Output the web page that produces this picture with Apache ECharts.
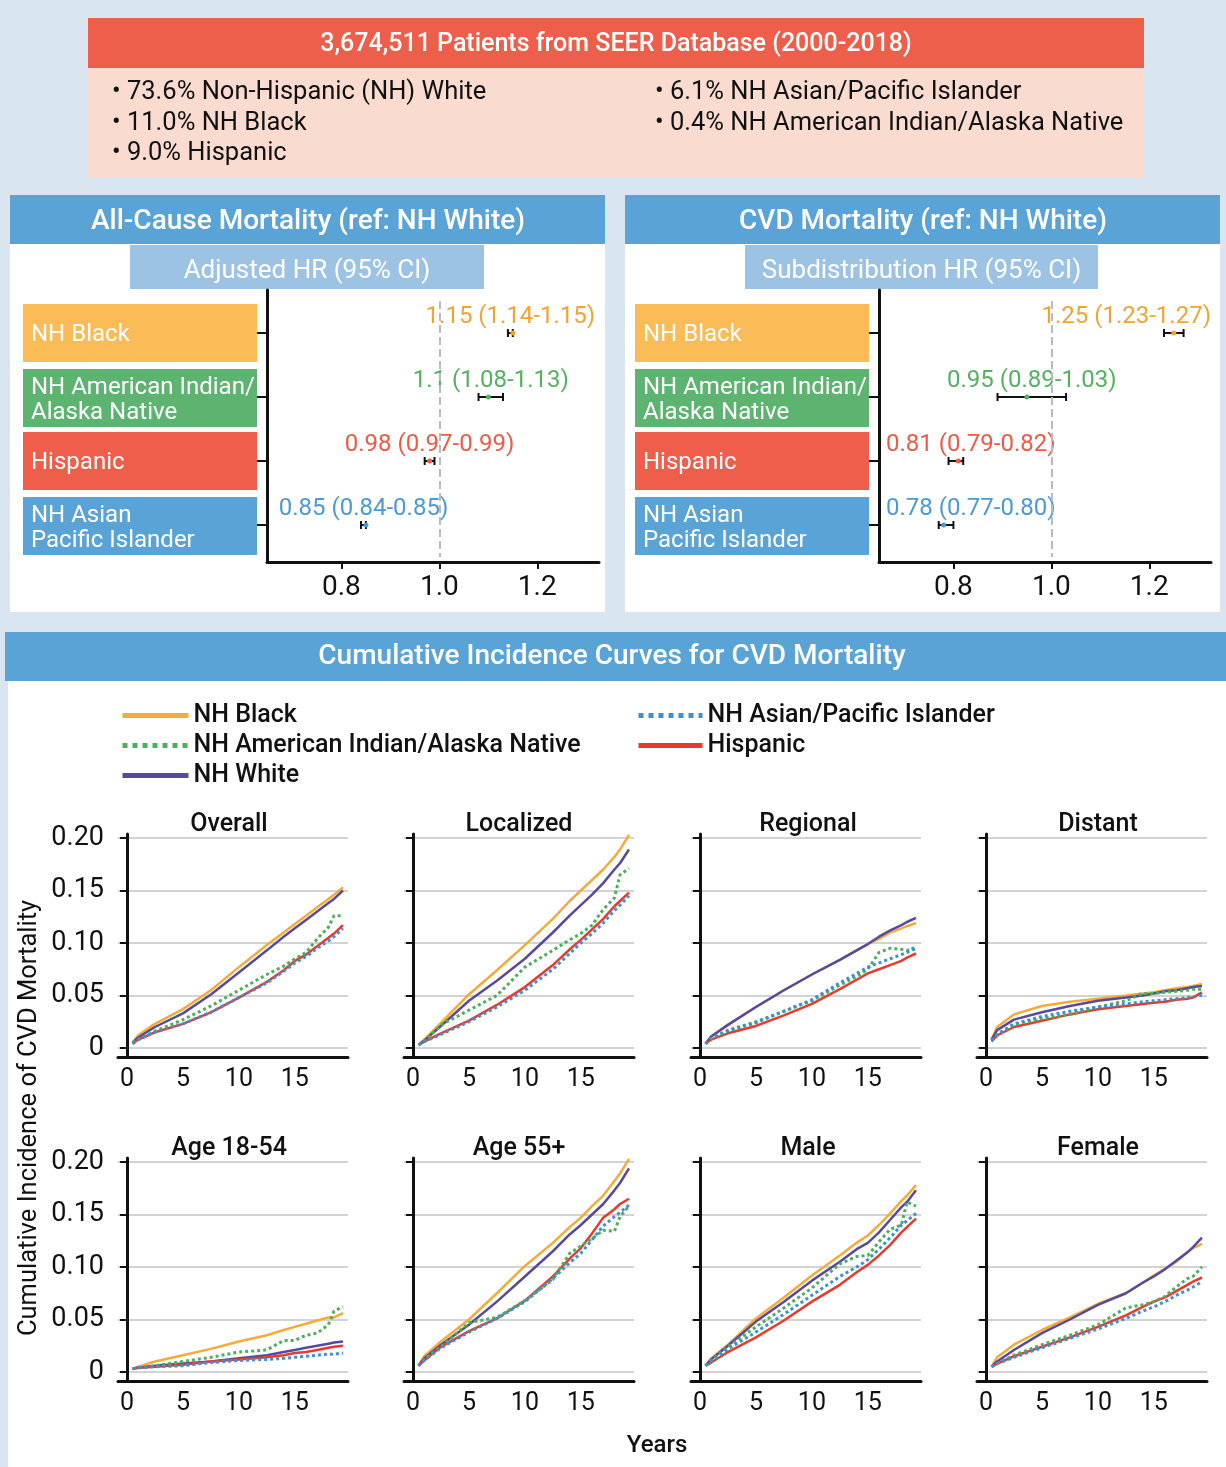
<!DOCTYPE html>
<html>
<head>
<meta charset="utf-8">
<title>SEER CVD mortality by race and ethnicity</title>
<script src="https://cdn.jsdelivr.net/npm/echarts@6.0.0/dist/echarts.min.js"></script>
<style>
html, body { margin: 0; padding: 0; background: #dae5f2; }
#chart { width: 1226px; height: 1467px; }
</style>
</head>
<body>
<div id="chart"></div>
<script>
var FONT = 'Roboto, "Noto Sans", sans-serif';

// cohort box
var cohortTitle = '3,674,511 Patients from SEER Database (2000-2018)';
var cohortLeft = ['73.6% Non-Hispanic (NH) White', '11.0% NH Black', '9.0% Hispanic'];
var cohortRight = ['6.1% NH Asian/Pacific Islander', '0.4% NH American Indian/Alaska Native'];

// forest plots, reference NH White
var hrGroups = ['NH Black', 'NH American Indian/\nAlaska Native', 'Hispanic', 'NH Asian\nPacific Islander'];
var hrTicks = [0.8, 1.0, 1.2];
var allCauseHR = [1.15, 1.1, 0.98, 0.85];
var allCauseLow = [1.14, 1.08, 0.97, 0.84];
var allCauseHigh = [1.15, 1.13, 0.99, 0.85];
var cvdHR = [1.25, 0.95, 0.81, 0.78];
var cvdLow = [1.23, 0.89, 0.79, 0.77];
var cvdHigh = [1.27, 1.03, 0.82, 0.80];

// cumulative incidence curves
var raceNames = ['NH Black', 'NH American Indian/Alaska Native', 'NH White', 'NH Asian/Pacific Islander', 'Hispanic'];
var panelNames = ['Overall', 'Localized', 'Regional', 'Distant', 'Age 18-54', 'Age 55+', 'Male', 'Female'];
var years = [0.5, 1, 2.5, 5, 7.5, 10, 12.5, 14, 15, 16, 17, 18, 18.5, 19.3];
var yearTicks = [0, 5, 10, 15];

// rows in raceNames order: black, am. indian, white, asian, hispanic
var overallCurves = [
  [0.005, 0.012, 0.023, 0.037, 0.055, 0.077, 0.098, 0.110, 0.118, 0.126, 0.134, 0.142, 0.146, 0.153],
  [0.005, 0.008, 0.016, 0.027, 0.040, 0.055, 0.070, 0.078, 0.085, 0.091, 0.104, 0.115, 0.126, 0.126],
  [0.005, 0.010, 0.020, 0.033, 0.051, 0.072, 0.093, 0.106, 0.114, 0.122, 0.130, 0.138, 0.142, 0.150],
  [0.004, 0.008, 0.015, 0.023, 0.034, 0.048, 0.062, 0.073, 0.081, 0.087, 0.095, 0.102, 0.106, 0.114],
  [0.004, 0.008, 0.015, 0.023, 0.034, 0.048, 0.063, 0.074, 0.083, 0.089, 0.097, 0.105, 0.109, 0.117]
];
var localizedCurves = [
  [0.003, 0.008, 0.024, 0.051, 0.074, 0.098, 0.123, 0.140, 0.150, 0.160, 0.170, 0.182, 0.189, 0.203],
  [0.003, 0.006, 0.022, 0.036, 0.050, 0.077, 0.093, 0.103, 0.109, 0.117, 0.132, 0.143, 0.165, 0.171],
  [0.003, 0.007, 0.021, 0.045, 0.064, 0.085, 0.110, 0.126, 0.136, 0.146, 0.157, 0.170, 0.176, 0.189],
  [0.003, 0.006, 0.013, 0.025, 0.039, 0.055, 0.075, 0.090, 0.100, 0.109, 0.119, 0.131, 0.136, 0.145],
  [0.003, 0.006, 0.014, 0.026, 0.041, 0.058, 0.079, 0.094, 0.103, 0.113, 0.123, 0.135, 0.140, 0.148]
];
var regionalCurves = [
  [0.004, 0.011, 0.022, 0.039, 0.055, 0.070, 0.084, 0.093, 0.099, 0.104, 0.110, 0.114, 0.116, 0.119],
  [0.004, 0.009, 0.017, 0.025, 0.035, 0.045, 0.060, 0.068, 0.075, 0.091, 0.095, 0.094, 0.093, 0.094],
  [0.004, 0.011, 0.022, 0.039, 0.055, 0.070, 0.084, 0.093, 0.099, 0.106, 0.112, 0.117, 0.120, 0.124],
  [0.004, 0.009, 0.016, 0.024, 0.035, 0.046, 0.062, 0.071, 0.077, 0.081, 0.085, 0.089, 0.091, 0.097],
  [0.004, 0.008, 0.014, 0.021, 0.031, 0.042, 0.056, 0.065, 0.071, 0.075, 0.079, 0.083, 0.086, 0.090]
];
var distantCurves = [
  [0.008, 0.020, 0.032, 0.040, 0.044, 0.047, 0.050, 0.052, 0.053, 0.055, 0.057, 0.058, 0.059, 0.061],
  [0.007, 0.012, 0.022, 0.028, 0.032, 0.039, 0.045, 0.052, 0.052, 0.053, 0.054, 0.055, 0.056, 0.056],
  [0.008, 0.017, 0.027, 0.034, 0.040, 0.045, 0.048, 0.050, 0.052, 0.054, 0.055, 0.057, 0.058, 0.059],
  [0.007, 0.013, 0.023, 0.030, 0.035, 0.039, 0.042, 0.044, 0.045, 0.046, 0.047, 0.048, 0.049, 0.050],
  [0.006, 0.012, 0.020, 0.026, 0.032, 0.037, 0.040, 0.042, 0.043, 0.044, 0.046, 0.047, 0.048, 0.053]
];
var age1854Curves = [
  [0.003, 0.005, 0.010, 0.016, 0.022, 0.029, 0.035, 0.040, 0.043, 0.046, 0.049, 0.052, 0.052, 0.056],
  [0.003, 0.004, 0.006, 0.010, 0.014, 0.019, 0.021, 0.030, 0.030, 0.035, 0.037, 0.045, 0.058, 0.062],
  [0.003, 0.004, 0.006, 0.008, 0.010, 0.013, 0.016, 0.019, 0.021, 0.023, 0.025, 0.027, 0.028, 0.029],
  [0.003, 0.004, 0.005, 0.006, 0.009, 0.011, 0.012, 0.013, 0.014, 0.015, 0.016, 0.017, 0.017, 0.018],
  [0.003, 0.004, 0.005, 0.007, 0.010, 0.012, 0.014, 0.016, 0.018, 0.019, 0.021, 0.023, 0.024, 0.025]
];
var age55Curves = [
  [0.006, 0.015, 0.029, 0.050, 0.075, 0.101, 0.123, 0.138, 0.147, 0.158, 0.168, 0.182, 0.189, 0.203],
  [0.006, 0.012, 0.024, 0.047, 0.052, 0.068, 0.088, 0.113, 0.120, 0.127, 0.135, 0.134, 0.148, 0.158],
  [0.006, 0.013, 0.026, 0.045, 0.067, 0.091, 0.115, 0.131, 0.140, 0.150, 0.160, 0.173, 0.180, 0.194],
  [0.006, 0.011, 0.023, 0.038, 0.051, 0.067, 0.089, 0.104, 0.113, 0.126, 0.139, 0.148, 0.152, 0.159],
  [0.006, 0.011, 0.024, 0.039, 0.051, 0.068, 0.091, 0.108, 0.118, 0.132, 0.147, 0.155, 0.160, 0.165]
];
var maleCurves = [
  [0.006, 0.013, 0.026, 0.051, 0.071, 0.092, 0.111, 0.123, 0.130, 0.140, 0.151, 0.163, 0.168, 0.178],
  [0.006, 0.011, 0.024, 0.043, 0.061, 0.080, 0.103, 0.110, 0.111, 0.124, 0.136, 0.140, 0.162, 0.158],
  [0.006, 0.012, 0.025, 0.048, 0.067, 0.087, 0.105, 0.117, 0.123, 0.133, 0.145, 0.157, 0.162, 0.173],
  [0.006, 0.010, 0.022, 0.038, 0.055, 0.073, 0.091, 0.100, 0.107, 0.117, 0.128, 0.140, 0.144, 0.151],
  [0.006, 0.009, 0.019, 0.033, 0.049, 0.067, 0.083, 0.095, 0.102, 0.111, 0.121, 0.133, 0.138, 0.146]
];
var femaleCurves = [
  [0.005, 0.014, 0.026, 0.040, 0.052, 0.065, 0.075, 0.085, 0.092, 0.098, 0.105, 0.114, 0.118, 0.122],
  [0.005, 0.008, 0.016, 0.026, 0.035, 0.045, 0.061, 0.064, 0.067, 0.072, 0.081, 0.089, 0.091, 0.100],
  [0.005, 0.010, 0.021, 0.037, 0.050, 0.064, 0.075, 0.085, 0.091, 0.098, 0.106, 0.114, 0.119, 0.128],
  [0.005, 0.008, 0.014, 0.023, 0.032, 0.041, 0.051, 0.058, 0.062, 0.067, 0.073, 0.078, 0.081, 0.086],
  [0.005, 0.008, 0.015, 0.024, 0.033, 0.043, 0.054, 0.062, 0.067, 0.071, 0.077, 0.083, 0.086, 0.090]
];
var panelCurves = [overallCurves, localizedCurves, regionalCurves, distantCurves,
  age1854Curves, age55Curves, maleCurves, femaleCurves];

var raceColors = ['#f5ab3a', '#4caf5b', '#564a9e', '#3d8fd6', '#e63b2c'];
var raceLine = ['solid', 'dotted', 'solid', 'dotted', 'solid'];
var boxColors = ['#fbbb57', '#5db370', '#ee5e4a', '#5aa3d6'];
var hrTextColors = ['#f2a433', '#55b062', '#ee5a45', '#4a9ad6'];

var chart = echarts.init(document.getElementById('chart'));
var measureCtx = document.createElement('canvas').getContext('2d');

var grids = [], xAxes = [], yAxes = [], series = [], graphics = [];

function rect(x, y, w, h, fill) {
  return { type: 'rect', z: -10, silent: true, shape: { x: x, y: y, width: w, height: h }, style: { fill: fill } };
}
function label(x, y, str, size, color, align, weight) {
  return {
    type: 'text', x: x, y: y + 3, silent: true,
    style: {
      text: str, fill: color, fontSize: size, fontFamily: FONT, fontWeight: weight || 'normal',
      align: align || 'center', verticalAlign: 'middle', lineHeight: 25
    }
  };
}

// ---------- top boxes ----------
graphics.push(rect(88, 18, 1056, 50, '#ee5f4b'));
graphics.push(label(616, 42, cohortTitle, 25, '#fff', 'center', 500));
graphics.push(rect(88, 68, 1056, 109, '#fadbd0'));
cohortLeft.forEach(function (t, i) {
  graphics.push(label(112, 90 + i * 30.5, '\u2022 ' + t, 25.5, '#111', 'left'));
});
cohortRight.forEach(function (t, i) {
  graphics.push(label(655, 90 + i * 30.5, '\u2022 ' + t, 25.5, '#111', 'left'));
});

// ---------- forest plots ----------
var HR_FONT = 24;
function forestRender(hr, lo, hi) {
  return function (params, api) {
    var i = params.dataIndex;
    var cs = params.coordSys;
    var cat = api.value(0);
    var pL = api.coord([api.value(2), cat]);
    var pH = api.coord([api.value(3), cat]);
    var pM = api.coord([api.value(1), cat]);
    var txt = String(hr[i]) + ' (' + lo[i].toFixed(2) + '-' + hi[i].toFixed(2) + ')';
    measureCtx.font = HR_FONT + 'px ' + FONT;
    var half = measureCtx.measureText(txt).width / 2;
    // label sits over the CI, kept inside the plot area
    var tx = Math.min(Math.max((pL[0] + pH[0]) / 2, cs.x + 7 + half), cs.x + cs.width - half);
    var stroke = { stroke: '#111', lineWidth: 2 };
    return {
      type: 'group',
      children: [
        { type: 'line', shape: { x1: pL[0], y1: pL[1], x2: pH[0], y2: pH[1] }, style: stroke },
        { type: 'line', shape: { x1: pL[0], y1: pL[1] - 4, x2: pL[0], y2: pL[1] + 4 }, style: stroke },
        { type: 'line', shape: { x1: pH[0], y1: pH[1] - 4, x2: pH[0], y2: pH[1] + 4 }, style: stroke },
        { type: 'circle', shape: { cx: pM[0], cy: pM[1], r: 2.5 }, style: { fill: hrTextColors[i] } },
        {
          type: 'text', x: tx, y: pM[1] - 16,
          style: { text: txt, fill: hrTextColors[i], fontSize: HR_FONT, fontFamily: FONT,
            align: 'center', verticalAlign: 'middle' }
        }
      ]
    };
  };
}

function addForest(px, axisX, title, subTitle, subX, subW, hr, lo, hi) {
  graphics.push(rect(px, 195, 595, 417, '#ffffff'));
  graphics.push(rect(px, 195, 595, 49, '#5aa3d6'));
  graphics.push(label(px + 298, 219, title, 28, '#fff', 'center', 500));
  graphics.push(rect(subX, 245, subW, 44, '#9cc3e4'));
  graphics.push(label(subX + subW / 2, 268, subTitle, 26, '#fff', 'center'));
  hrGroups.forEach(function (g, i) {
    var top = [304, 369, 432, 497][i];
    graphics.push(rect(axisX - 244, top, 234, 58, boxColors[i]));
    graphics.push(label(axisX - 236, top + 28, g, 24, '#fff', 'left'));
  });

  var gi = grids.length;
  // frame grid: axis lines and HR ticks
  grids.push({ left: axisX, top: 290, width: 332, height: 272 });
  xAxes.push({
    gridIndex: gi, type: 'value', min: 0.648, max: 1.326,
    axisLine: { lineStyle: { color: '#111', width: 3 } },
    axisTick: { customValues: hrTicks, length: 7, lineStyle: { color: '#111', width: 2 } },
    axisLabel: { customValues: hrTicks, formatter: function (v) { return v.toFixed(1); },
      fontSize: 28, color: '#111', fontFamily: FONT, margin: 12 },
    splitLine: { show: false }
  });
  yAxes.push({
    gridIndex: gi, type: 'value', min: 0, max: 1,
    axisLine: { show: true, lineStyle: { color: '#111', width: 3 } },
    axisTick: { show: false }, axisLabel: { show: false }, splitLine: { show: false }
  });
  // data grid: one band per group
  grids.push({ left: axisX, top: 301, width: 332, height: 256 });
  xAxes.push({ gridIndex: gi + 1, type: 'value', min: 0.648, max: 1.326, show: false });
  yAxes.push({
    gridIndex: gi + 1, type: 'category', data: hrGroups, inverse: true,
    axisLine: { show: false },
    axisTick: { show: true, alignWithLabel: true, length: 10, lineStyle: { color: '#111', width: 2 } },
    axisLabel: { show: false }, splitLine: { show: false }
  });
  series.push({
    type: 'custom', xAxisIndex: gi + 1, yAxisIndex: gi + 1,
    data: hr.map(function (v, i) { return [i, v, lo[i], hi[i]]; }),
    encode: { x: [1, 2, 3], y: 0 },
    renderItem: forestRender(hr, lo, hi),
    markLine: {
      silent: true, symbol: 'none', label: { show: false },
      lineStyle: { color: '#bbbbbb', type: 'dashed', width: 2 },
      data: [{ xAxis: 1.0 }]
    }
  });
}

addForest(10, 267, 'All-Cause Mortality (ref: NH White)', 'Adjusted HR (95% CI)', 130, 354,
  allCauseHR, allCauseLow, allCauseHigh);
addForest(625, 879, 'CVD Mortality (ref: NH White)', 'Subdistribution HR (95% CI)', 745, 353,
  cvdHR, cvdLow, cvdHigh);

// ---------- cumulative incidence panels ----------
graphics.push(rect(8, 681, 1218, 786, '#ffffff'));
graphics.push(rect(5, 632, 1221, 49, '#5aa3d6'));
graphics.push(label(612, 654, 'Cumulative Incidence Curves for CVD Mortality', 28, '#fff', 'center', 500));
graphics.push({
  type: 'text', x: 30, y: 1118, rotation: Math.PI / 2, silent: true,
  style: { text: 'Cumulative Incidence of CVD Mortality', fill: '#111', fontSize: 25.5, fontFamily: FONT,
    align: 'center', verticalAlign: 'middle' }
});
graphics.push(label(657, 1443, 'Years', 24, '#111', 'center', 500));

var colX = [118, 404, 691, 977];
var titleX = [229, 519, 808, 1098];
var rowTop = [838, 1162];

panelNames.forEach(function (name, p) {
  var row = Math.floor(p / 4), col = p % 4;
  var left = colX[col], top = rowTop[row];
  graphics.push(label(titleX[col], top - 16, name, 25, '#111', 'center', 500));

  var gi = grids.length;
  // frame grid (axis lines run slightly past the 0 and 0.20 gridlines)
  grids.push({ left: left, top: top - 4, width: 230, height: 223 });
  xAxes.push({
    gridIndex: gi, type: 'value', min: -0.8, max: 19.75,
    axisLine: { lineStyle: { color: '#111', width: 3 } },
    axisTick: { show: false },
    axisLabel: { customValues: yearTicks, fontSize: 25, color: '#111', fontFamily: FONT, margin: 10 },
    splitLine: { show: false }
  });
  yAxes.push({
    gridIndex: gi, type: 'value', min: 0, max: 1,
    axisLine: { show: true, lineStyle: { color: '#111', width: 3 } },
    axisTick: { show: false }, axisLabel: { show: false }, splitLine: { show: false }
  });
  // data grid
  grids.push({ left: left, top: top, width: 230, height: 210 });
  xAxes.push({ gridIndex: gi + 1, type: 'value', min: -0.8, max: 19.75, show: false });
  yAxes.push({
    gridIndex: gi + 1, type: 'value', min: 0, max: 0.2, interval: 0.05,
    axisLine: { show: false },
    axisTick: { show: true, length: 7, lineStyle: { color: '#111', width: 2 } },
    axisLabel: { show: col === 0, fontSize: 27, color: '#111', fontFamily: FONT, margin: 14,
      formatter: function (v) { return v === 0 ? '0' : v.toFixed(2); } },
    splitLine: { show: true, lineStyle: { color: '#c4c4c4', width: 1.5 } }
  });

  panelCurves[p].forEach(function (vals, k) {
    series.push({
      type: 'line', name: raceNames[k], xAxisIndex: gi + 1, yAxisIndex: gi + 1,
      data: years.map(function (t, j) { return [t, vals[j]]; }),
      symbol: 'none', showSymbol: false, clip: false,
      color: raceColors[k],
      lineStyle: { color: raceColors[k], width: raceLine[k] === 'dotted' ? 3 : 2.5, type: raceLine[k] },
      z: raceLine[k] === 'dotted' ? 3 : 2
    });
  });
});

var legendBase = {
  top: 703, orient: 'vertical', selectedMode: false, padding: 0,
  itemHeight: 4, itemGap: 5,
  itemStyle: { opacity: 0 },
  lineStyle: { width: 5 },
  textStyle: { fontSize: 25, color: '#111', fontFamily: FONT, fontWeight: 500 }
};

chart.setOption({
  animation: false,
  backgroundColor: '#dae5f2',
  grid: grids,
  xAxis: xAxes,
  yAxis: yAxes,
  series: series,
  graphic: { elements: graphics },
  legend: [
    Object.assign({ left: 120, itemWidth: 66, data: raceNames.slice(0, 3) }, legendBase),
    Object.assign({ left: 636, itemWidth: 64, data: raceNames.slice(3) }, legendBase)
  ]
});
</script>
</body>
</html>
